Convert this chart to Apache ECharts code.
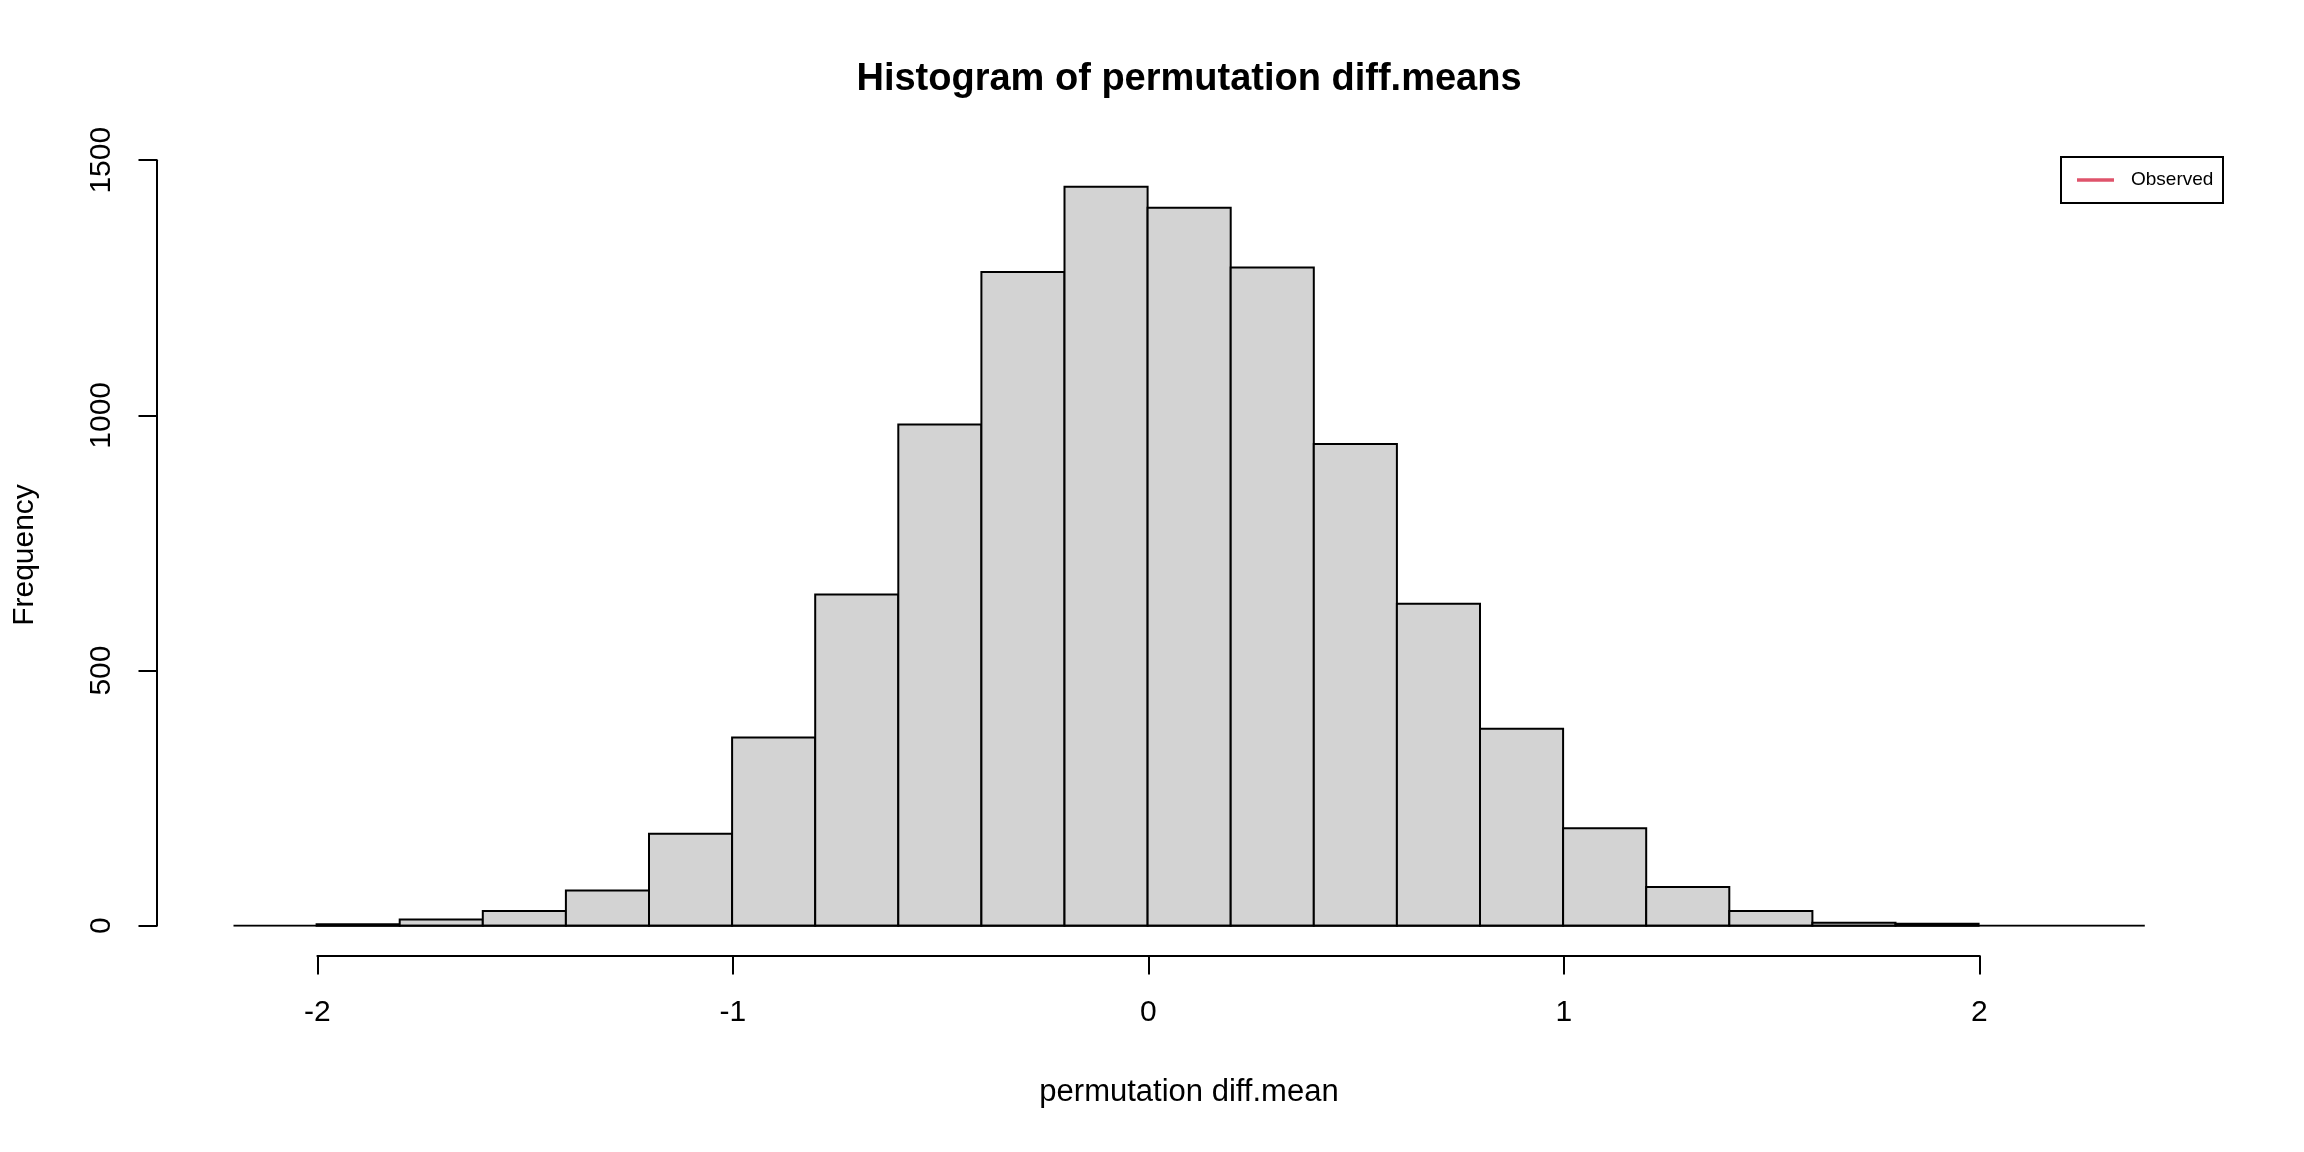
<!DOCTYPE html>
<html>
<head>
<meta charset="utf-8">
<title>Histogram of permutation diff.means</title>
<script src="https://cdn.jsdelivr.net/npm/echarts@6/dist/echarts.min.js"></script>
<style>
  html, body { margin: 0; padding: 0; background: #fff; }
  #chart { width: 2304px; height: 1152px; }
</style>
</head>
<body>
<div id="chart"></div>
<script>
// histogram bins (left edges) and counts
var binEdges = [-2.0, -1.8, -1.6, -1.4, -1.2, -1.0, -0.8, -0.6, -0.4, -0.2, 0.0,
                0.2, 0.4, 0.6, 0.8, 1.0, 1.2, 1.4, 1.6, 1.8, 2.0];
var counts = [3, 12, 29, 69, 180, 369, 649, 982, 1281, 1448,
              1407, 1290, 944, 631, 386, 191, 76, 29, 6, 4];
var baseline = [[-2.2, 0], [2.4, 0]];
var xTicks = [-2, -1, 0, 1, 2];
var yTicks = [0, 500, 1000, 1500];
var legendNames = ['Observed'];

var font = '"Liberation Sans", Arial, sans-serif';

var bars = [];
for (var i = 0; i < counts.length; i++) {
  bars.push([binEdges[i], binEdges[i + 1], counts[i]]);
}

var myChart = echarts.init(document.getElementById('chart'));

var option = {
  animation: false,
  backgroundColor: '#ffffff',
  grid: [
    // plot region
    { left: 108.85, right: 117.65, top: 109.2, bottom: 226.3, outerBoundsMode: 'none' },
    // x axis, drawn below the plot like R does
    { left: 317.4, right: 324.7, top: 900, bottom: 196.5, outerBoundsMode: 'none' },
    // y axis, left of the plot
    { left: 157, width: 20, top: 160.2, bottom: 226.3, outerBoundsMode: 'none' }
  ],
  xAxis: [
    { gridIndex: 0, type: 'value', min: -2.5, max: 2.5, show: false },
    {
      gridIndex: 1, type: 'value', min: xTicks[0], max: xTicks[xTicks.length - 1], interval: 1,
      position: 'bottom',
      splitLine: { show: false },
      axisLine: { show: true, lineStyle: { color: '#000', width: 2 } },
      axisTick: { show: true, length: 19, lineStyle: { color: '#000', width: 2 } },
      axisLabel: {
        show: true, margin: 42, color: '#000', fontSize: 30, fontFamily: font,
        showMinLabel: true, showMaxLabel: true,
        formatter: function(v) { return String(v); }
      }
    },
    { gridIndex: 2, type: 'value', min: 0, max: 1, show: false }
  ],
  yAxis: [
    { gridIndex: 0, type: 'value', min: 0, max: 1600, show: false },
    { gridIndex: 1, type: 'value', min: 0, max: 1, show: false },
    {
      gridIndex: 2, type: 'value', min: yTicks[0], max: yTicks[yTicks.length - 1], interval: 500,
      position: 'left',
      splitLine: { show: false },
      axisLine: { show: true, lineStyle: { color: '#000', width: 2 } },
      axisTick: { show: true, length: 18.5, lineStyle: { color: '#000', width: 2 } },
      axisLabel: {
        show: true, rotate: 90, margin: 40, color: '#000', fontSize: 30, fontFamily: font,
        showMinLabel: true, showMaxLabel: true,
        formatter: function(v) { return String(v); }
      }
    }
  ],
  series: [
    {
      type: 'custom',
      xAxisIndex: 0,
      yAxisIndex: 0,
      silent: true,
      data: bars,
      renderItem: function(params, api) {
        var p0 = api.coord([api.value(0), api.value(2)]);
        var p1 = api.coord([api.value(1), 0]);
        return {
          type: 'rect',
          shape: { x: p0[0], y: p0[1], width: p1[0] - p0[0], height: p1[1] - p0[1] },
          style: { fill: '#D3D3D3', stroke: '#000', lineWidth: 2 }
        };
      }
    },
    {
      type: 'line',
      xAxisIndex: 0,
      yAxisIndex: 0,
      silent: true,
      symbol: 'none',
      data: baseline,
      lineStyle: { color: '#000', width: 2 },
      z: 3
    }
  ],
  graphic: [
    {
      type: 'text', x: 1189, y: 80,
      style: {
        text: 'Histogram of permutation diff.means',
        font: 'bold 38px ' + font, fill: '#000',
        textAlign: 'center', textVerticalAlign: 'middle'
      }
    },
    {
      type: 'text', x: 1189, y: 1092,
      style: {
        text: 'permutation diff.mean',
        font: '31px ' + font, fill: '#000',
        textAlign: 'center', textVerticalAlign: 'middle'
      }
    },
    {
      type: 'text', x: 25, y: 555, rotation: Math.PI / 2,
      style: {
        text: 'Frequency',
        font: '30px ' + font, fill: '#000',
        textAlign: 'center', textVerticalAlign: 'middle'
      }
    },
    // legend box (top right)
    {
      type: 'rect',
      shape: { x: 2061, y: 157, width: 162, height: 46 },
      style: { fill: '#fff', stroke: '#000', lineWidth: 2 }
    },
    {
      type: 'line',
      shape: { x1: 2077, y1: 180, x2: 2114, y2: 180 },
      style: { stroke: '#DF536B', lineWidth: 3.5 }
    },
    {
      type: 'text', x: 2131, y: 180,
      style: {
        text: legendNames[0],
        font: '19px ' + font, fill: '#000',
        textAlign: 'left', textVerticalAlign: 'middle'
      }
    }
  ]
};

myChart.setOption(option);
</script>
</body>
</html>
